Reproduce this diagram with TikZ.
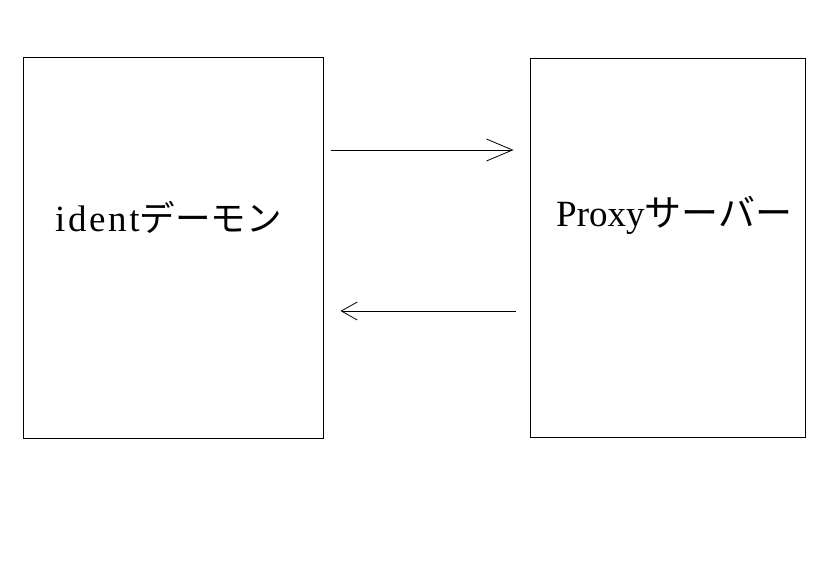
\documentclass[tikz,border=0pt]{standalone}
\usepackage{fontspec}
\setmainfont{Liberation Serif}
\newfontfamily\jp{Noto Sans CJK JP}
\newfontfamily\spaced[LetterSpace=7]{Liberation Serif}
\usetikzlibrary{arrows.meta}
\begin{document}
\begin{tikzpicture}[x=1bp,y=-1bp,
  box/.style={draw,line width=1bp,rectangle,inner sep=0pt},
  lbl/.style={anchor=base west,inner sep=0pt,font=\fontsize{37bp}{40bp}\selectfont},
  conn/.style={line width=0.8bp}]
\useasboundingbox (0,0) rectangle (826,563);
\node[box,minimum width=299bp,minimum height=380bp] (L) at (173.5,248) {};
\node[box,minimum width=275bp,minimum height=378bp] (R) at (667.5,248) {};
\node[lbl] (Lt) at (55,232) {{\spaced ident}{\jp\fontsize{35.5bp}{40bp}\selectfont デーモン}};
\node[lbl] (Rt) at (556,227) {Proxy{\jp\fontsize{37bp}{40bp}\selectfont サーバー}};
\coordinate (a1) at ([xshift=7bp]L.east |- 0,150);
\coordinate (a2) at ([xshift=-16bp]R.west |- 0,150);
\coordinate (b1) at ([xshift=-14bp]R.west |- 0,311);
\coordinate (b2) at ([xshift=17bp]L.east |- 0,311);
\draw[conn,-{Straight Barb[length=26bp,width=22bp,line width=0.8bp]}] (a1) -- (a2);
\draw[conn,-{Straight Barb[length=16bp,width=18bp,line width=0.8bp]}] (b1) -- (b2);
\end{tikzpicture}
\end{document}
